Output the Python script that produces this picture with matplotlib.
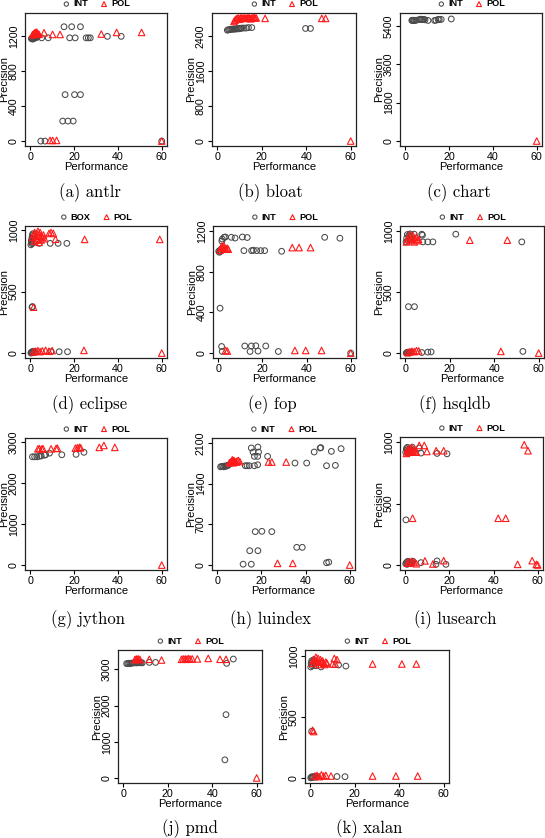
import matplotlib
matplotlib.use("Agg")
import matplotlib.pyplot as plt

# ---- data (Performance, Precision) per benchmark ----
ANTLR_INT_X = [0.5, 0.8, 1.0, 1.2, 1.5, 1.8, 2.0, 2.3, 2.6, 3.0, 3.5, 5.2, 8.2, 15.4, 18.9, 22.9,
               18.0, 20.5, 25.5, 26.5, 27.4, 35.2, 41.5, 15.9, 20.2, 22.9, 14.8, 17.2, 19.6, 4.8, 6.7, 60]
ANTLR_INT_Y = [1170, 1175, 1180, 1165, 1185, 1175, 1190, 1180, 1195, 1185, 1200, 1180, 1180, 1307, 1307, 1307,
               1180, 1180, 1180, 1180, 1180, 1197, 1197, 531, 531, 531, 229, 229, 229, 0, 0, 0]
ANTLR_POL_X = [1.0, 1.5, 2.0, 2.3, 2.7, 3.0, 3.5, 4.0, 6.3, 10.2, 13.6, 32.4, 39.4, 50.8, 9.0, 10.2, 12.0, 60]
ANTLR_POL_Y = [1215, 1225, 1235, 1240, 1230, 1245, 1225, 1220, 1238, 1219, 1219, 1223, 1242, 1242, 8, 8, 8, 0]

BLOAT_INT_X = [4.5, 5.0, 5.5, 6.0, 6.5, 7.0, 7.5, 8.0, 8.5, 9.0, 9.5, 10.0, 10.5, 11.0, 12.0, 13.0, 14.0,
               15.5, 39.7, 41.9]
BLOAT_INT_Y = [2530, 2540, 2545, 2550, 2550, 2555, 2560, 2555, 2560, 2570, 2560, 2570, 2570, 2580, 2580, 2580,
               2590, 2590, 2570, 2570]
BLOAT_POL_X = [7.5, 8.0, 8.5, 9.0, 9.5, 10.0, 10.5, 11.0, 11.5, 12.0, 12.5, 13.0, 13.5, 14.0, 14.5, 15.0,
               15.5, 16.0, 16.5, 17.0, 17.5, 21.5, 47.0, 48.7, 60]
BLOAT_POL_Y = [2730, 2760, 2790, 2800, 2810, 2780, 2810, 2810, 2800, 2810, 2810, 2800, 2810, 2810, 2810, 2790,
               2810, 2810, 2820, 2810, 2810, 2800, 2800, 2800, 0]

CHART_INT_X = [3.0, 3.3, 3.6, 4.0, 4.4, 5.0, 6.5, 7.0, 7.5, 8.0, 8.5, 9.0, 10.4, 13.4, 14.0, 15.0, 15.5, 16.4, 21.0]
CHART_INT_Y = [5650, 5660, 5640, 5660, 5650, 5660, 5700, 5710, 5690, 5700, 5700, 5680, 5650, 5650, 5660, 5700,
               5690, 5700, 5720]
CHART_POL_X = [60]
CHART_POL_Y = [0]

ECLIPSE_BOX_X = [0.3, 0.5, 0.6, 0.8, 1.0, 1.2, 1.4, 0.5, 0.8, 1.0, 1.3, 4.1, 9.1, 12.7, 16.7, 0.8, 1.0,
                 0.3, 0.5, 0.7, 0.9, 1.1, 1.4, 1.8, 2.2, 9.4, 13.2, 17.0]
ECLIPSE_BOX_Y = [880, 900, 920, 940, 960, 970, 950, 910, 890, 930, 900, 892, 892, 892, 892, 373, 378,
                 0, 5, 10, 3, 8, 15, 5, 10, 11, 11, 11]
ECLIPSE_POL_X = [1.0, 1.5, 2.0, 2.5, 3.0, 3.5, 4.0, 4.5, 5.0, 5.5, 6.0, 2.0, 3.0, 4.0, 5.0, 6.5, 8.6, 9.5,
                 10.5, 11.5, 24.8, 59.1, 1.5, 1.5, 2.5, 3.5, 4.5, 5.5, 7.0, 8.5, 10.0, 24.5, 60]
ECLIPSE_POL_Y = [940, 960, 980, 950, 970, 990, 960, 980, 950, 940, 960, 910, 920, 900, 920, 930, 973, 980,
                 973, 925, 924, 924, 373, 10, 15, 20, 12, 18, 22, 15, 20, 22, 0]

FOP_INT_X = [1.8, 2.6, 3.2, 5.9, 7.6, 10.9, 13.1, 48.2, 55.1, 0.2, 0.5, 0.8, 1.0, 1.3, 1.6, 11.6, 15.1,
             15.9, 17.4, 19.2, 21.0, 28.7, 0.8, 1.5, 12.0, 15.0, 17.0, 21.5, 1.8, 14.4, 18.0, 27.2, 60]
FOP_INT_Y = [1120, 1137, 1140, 1137, 1130, 1140, 1135, 1137, 1128, 1000, 990, 1010, 1000, 1020, 1100, 1006,
             1006, 1010, 1006, 1006, 1006, 1000, 441, 65, 70, 70, 72, 70, 16, 16, 20, 16, 0]
FOP_POL_X = [0.8, 1.2, 1.6, 2.0, 2.5, 3.0, 3.5, 4.0, 4.5, 33.5, 36.6, 41.8, 3.3, 4.1, 34.7, 39.6, 46.8, 60]
FOP_POL_Y = [1010, 1030, 1050, 1040, 1055, 1030, 1020, 1030, 1020, 1036, 1036, 1036, 26, 20, 26, 26, 26, 0]

HSQLDB_INT_X = [0.3, 0.6, 0.9, 1.2, 1.5, 1.8, 2.1, 2.5, 3.0, 4.0, 7.4, 7.7, 22.7, 7.9, 10.1, 12.4, 52.4,
                1.4, 4.1, 0.4, 0.7, 1.0, 1.4, 1.8, 2.2, 2.6, 7.4, 10.1, 11.6, 52.9]
HSQLDB_INT_Y = [910, 940, 970, 920, 960, 930, 975, 950, 930, 973, 973, 965, 973, 910, 910, 910, 910,
                380, 380, 0, 5, 3, 8, 0, 5, 10, 5, 8, 10, 14]
HSQLDB_POL_X = [0.5, 1.0, 1.5, 2.0, 2.5, 3.0, 3.5, 4.0, 4.5, 5.0, 5.5, 6.0, 29.0, 45.9, 1.0, 2.0, 3.0,
                4.0, 5.0, 6.0, 43.0, 60]
HSQLDB_POL_Y = [910, 930, 950, 970, 920, 940, 960, 910, 930, 950, 920, 930, 924, 924, 5, 10, 15, 12, 20,
                18, 14, 0]

JYTHON_INT_X = [1.0, 2.0, 3.0, 4.0, 5.0, 6.5, 7.0, 8.8, 14.4, 20.9, 24.5]
JYTHON_INT_Y = [2650, 2650, 2650, 2660, 2670, 2690, 2700, 2740, 2700, 2710, 2760]
JYTHON_POL_X = [3.5, 4.2, 5.3, 5.8, 9.5, 11.8, 12.4, 20.6, 21.5, 22.4, 23.0, 31.5, 33.6, 38.6, 60]
JYTHON_POL_Y = [2845, 2850, 2840, 2850, 2845, 2855, 2860, 2860, 2870, 2880, 2870, 2880, 2927, 2880, 0]

LUINDEX_INT_X = [1.5, 2.0, 2.5, 3.0, 3.5, 4.0, 4.5, 5.0, 12.7, 13.5, 14.5, 15.4, 18.4, 16.2, 18.7, 16.8,
                 18.3, 16.8, 18.3, 22.8, 35.2, 40.5, 43.9, 46.6, 46.9, 51.7, 56.1, 49.5, 53.5, 17.2, 20.2,
                 24.7, 36.0, 38.5, 14.7, 18.4, 11.7, 15.4, 49.5, 50.5]
LUINDEX_INT_Y = [1690, 1695, 1700, 1690, 1705, 1700, 1710, 1720, 1709, 1709, 1709, 2014, 2030, 1944, 1944,
                 1870, 1870, 1709, 1726, 1870, 1755, 1755, 1945, 2014, 2020, 1956, 2002, 1709, 1715, 575,
                 580, 575, 305, 305, 247, 247, 15, 15, 40, 50]
LUINDEX_POL_X = [5.5, 6.0, 6.5, 7.0, 7.5, 8.0, 8.5, 9.0, 9.5, 10.2, 6.8, 7.2, 23.2, 24.7, 31.2, 27.3, 34.2, 60]
LUINDEX_POL_Y = [1760, 1770, 1780, 1790, 1800, 1780, 1770, 1790, 1800, 1780, 1810, 1760, 1772, 1772, 1772,
                 29, 29, 0]

LUSEARCH_INT_X = [0.2, 0.5, 0.8, 1.0, 1.3, 1.6, 2.0, 2.4, 2.8, 3.2, 3.6, 6.3, 7.1, 14.4, 18.9, 0.3, 0.2,
                  0.5, 0.8, 1.1, 1.5, 2.0, 2.5, 3.0, 3.5, 7.1, 14.4, 13.9, 18.4]
LUSEARCH_INT_Y = [920, 950, 940, 960, 910, 930, 950, 940, 920, 960, 930, 954, 913, 910, 907, 368, 10, 20,
                  5, 30, 15, 25, 10, 20, 30, 19, 33, 5, 5]
LUSEARCH_POL_X = [0.5, 1.0, 1.5, 2.0, 2.5, 3.0, 3.5, 4.0, 4.5, 5.0, 6.3, 8.6, 9.8, 14.0, 17.4, 3.3, 42.1,
                  45.5, 53.9, 55.6, 1.0, 2.0, 3.0, 4.0, 5.0, 8.9, 12.5, 17.4, 50.9, 57.5, 59.4, 60]
LUSEARCH_POL_Y = [910, 940, 920, 950, 930, 960, 920, 940, 930, 920, 975, 975, 926, 932, 932, 381, 381,
                  381, 981, 932, 15, 25, 30, 20, 10, 33, 8, 35, 5, 35, 5, 0]

PMD_INT_X = [1.5, 2.0, 2.5, 3.0, 3.5, 4.0, 5.0, 6.0, 6.5, 7.0, 7.5, 8.0, 8.5, 11.7, 14.5, 46.5, 49.5, 46.2, 45.7]
PMD_INT_Y = [3160, 3160, 3170, 3165, 3170, 3175, 3180, 3180, 3185, 3190, 3185, 3190, 3180, 3194, 3194,
             3167, 3287, 1750, 500]
PMD_POL_X = [5.2, 5.8, 6.3, 6.9, 7.5, 11.7, 17.2, 26.2, 27.0, 27.8, 28.5, 29.2, 30.0, 31.0, 33.3, 38.2,
             43.5, 46.2, 60]
PMD_POL_Y = [3270, 3290, 3280, 3290, 3270, 3280, 3260, 3280, 3290, 3290, 3280, 3300, 3290, 3290, 3290,
             3305, 3280, 3280, 0]

XALAN_INT_X = [0.2, 0.4, 0.6, 0.8, 1.0, 1.3, 1.6, 2.0, 2.5, 3.0, 4.8, 12.7, 16.0, 0.6, 0.2, 0.5, 0.8,
               1.1, 1.5, 2.0, 2.5, 3.0, 12.0, 15.6]
XALAN_INT_Y = [910, 940, 960, 920, 950, 930, 970, 940, 920, 950, 910, 926, 917, 382, 0, 5, 10, 3, 8, 12,
               5, 10, 11, 10]
XALAN_POL_X = [1.0, 1.5, 2.0, 2.5, 3.0, 3.5, 4.0, 4.5, 5.0, 5.5, 6.0, 6.5, 7.0, 7.5, 10.0, 10.8, 11.2,
               12.0, 28.0, 41.2, 47.7, 1.0, 1.5, 2.0, 3.0, 4.0, 5.0, 6.0, 7.0, 9.3, 28.0, 38.5, 48.3]
XALAN_POL_Y = [940, 970, 960, 990, 950, 980, 930, 970, 950, 960, 940, 930, 950, 940, 934, 980, 934, 970,
               934, 934, 934, 390, 380, 15, 20, 10, 25, 15, 20, 15, 15, 15, 15]

X_TICKS = [0, 20, 40, 60]

FIG_W, FIG_H = 545, 838
GRAY = "#4a4a4a"
RED = "#ff1a1a"
SANS = "Liberation Sans"


def draw_panel(box, cap_x, cap_y, int_x, int_y, pol_x, pol_y, yticks, ylim, caption, first="INT"):
    """box = (left, top, right, bottom) in pixels"""
    l, t, r, b = box
    ax = fig.add_axes([l / FIG_W, 1 - b / FIG_H, (r - l) / FIG_W, (b - t) / FIG_H])
    ax.scatter(int_x, int_y, s=17, marker="o", facecolors="none", edgecolors=GRAY,
               linewidths=0.75, label=first, zorder=3)
    ax.scatter(pol_x, pol_y, s=22, marker="^", facecolors="none", edgecolors=RED,
               linewidths=0.8, label="POL", zorder=4)
    ax.set_xlim(-2.4, 62.4)
    ax.set_ylim(*ylim)
    ax.set_xticks(X_TICKS)
    ax.set_yticks(yticks)
    ax.set_yticklabels([str(v) for v in yticks], rotation=90, va="center")
    ax.tick_params(length=3, width=0.8, pad=1.5, labelsize=7.7)
    for lab in ax.get_xticklabels() + ax.get_yticklabels():
        lab.set_family(SANS)
    for sp in ax.spines.values():
        sp.set_linewidth(0.9)
        sp.set_color("#222222")
    ax.set_xlabel("Performance", fontsize=8, family=SANS, labelpad=0)
    ax.set_ylabel("Precision", fontsize=8, family=SANS, labelpad=0)
    # legend sits ~9 px above the top of the frame, like R's legend(xpd=TRUE)
    ax.legend(loc="center", bbox_to_anchor=(0.5, 1 + 9.0 / (b - t)), ncol=2, frameon=False,
              prop={"family": SANS, "weight": "bold", "size": 6.6},
              handletextpad=0.3, columnspacing=1.3, borderpad=0.0, borderaxespad=0.0,
              markerscale=0.75, handlelength=0.9)
    fig.text(cap_x / FIG_W, 1 - cap_y / FIG_H, caption, ha="center", va="center",
             family="cmr10", fontsize=12)
    return ax


fig = plt.figure(figsize=(FIG_W / 100, FIG_H / 100), dpi=100)

draw_panel((25, 13, 167, 146), 90, 193, ANTLR_INT_X, ANTLR_INT_Y, ANTLR_POL_X, ANTLR_POL_Y,
           [0, 400, 800, 1200], (-56, 1464), "(a) antlr")
draw_panel((212, 13, 356, 146), 270, 193, BLOAT_INT_X, BLOAT_INT_Y, BLOAT_POL_X, BLOAT_POL_Y,
           [0, 800, 1600, 2400], (-113, 2923), "(b) bloat")
draw_panel((400, 13, 542, 146), 459, 193, CHART_INT_X, CHART_INT_Y, CHART_POL_X, CHART_POL_Y,
           [0, 1800, 3600, 5400], (-232, 6000), "(c) chart")

draw_panel((25, 226, 167, 358), 90, 405, ECLIPSE_BOX_X, ECLIPSE_BOX_Y, ECLIPSE_POL_X, ECLIPSE_POL_Y,
           [0, 500, 1000], (-40, 1033), "(d) eclipse", first="BOX")
draw_panel((213, 226, 356, 358), 272, 405, FOP_INT_X, FOP_INT_Y, FOP_POL_X, FOP_POL_Y,
           [0, 400, 800, 1200], (-48, 1248), "(e) fop")
draw_panel((400, 226, 544, 358), 455, 405, HSQLDB_INT_X, HSQLDB_INT_Y, HSQLDB_POL_X, HSQLDB_POL_Y,
           [0, 500, 1000], (-40, 1040), "(f) hsqldb")

draw_panel((25, 438, 167, 570), 88, 620, JYTHON_INT_X, JYTHON_INT_Y, JYTHON_POL_X, JYTHON_POL_Y,
           [0, 1000, 2000, 3000], (-120, 3110), "(g) jython")
draw_panel((212, 438, 355, 570), 270, 620, LUINDEX_INT_X, LUINDEX_INT_Y, LUINDEX_POL_X, LUINDEX_POL_Y,
           [0, 700, 1400, 2100], (-85, 2186), "(h) luindex")
draw_panel((400, 437, 543, 570), 455, 620, LUSEARCH_INT_X, LUSEARCH_INT_Y, LUSEARCH_POL_X, LUSEARCH_POL_Y,
           [0, 500, 1000], (-41, 1044), "(i) lusearch")

draw_panel((118, 650, 262, 783), 190, 829, PMD_INT_X, PMD_INT_Y, PMD_POL_X, PMD_POL_Y,
           [0, 1000, 2000, 3000], (-140, 3537), "(j) pmd")
draw_panel((305, 650, 449, 783), 369, 829, XALAN_INT_X, XALAN_INT_Y, XALAN_POL_X, XALAN_POL_Y,
           [0, 500, 1000], (-42, 1049), "(k) xalan")

fig.savefig("out.png", dpi=100)
